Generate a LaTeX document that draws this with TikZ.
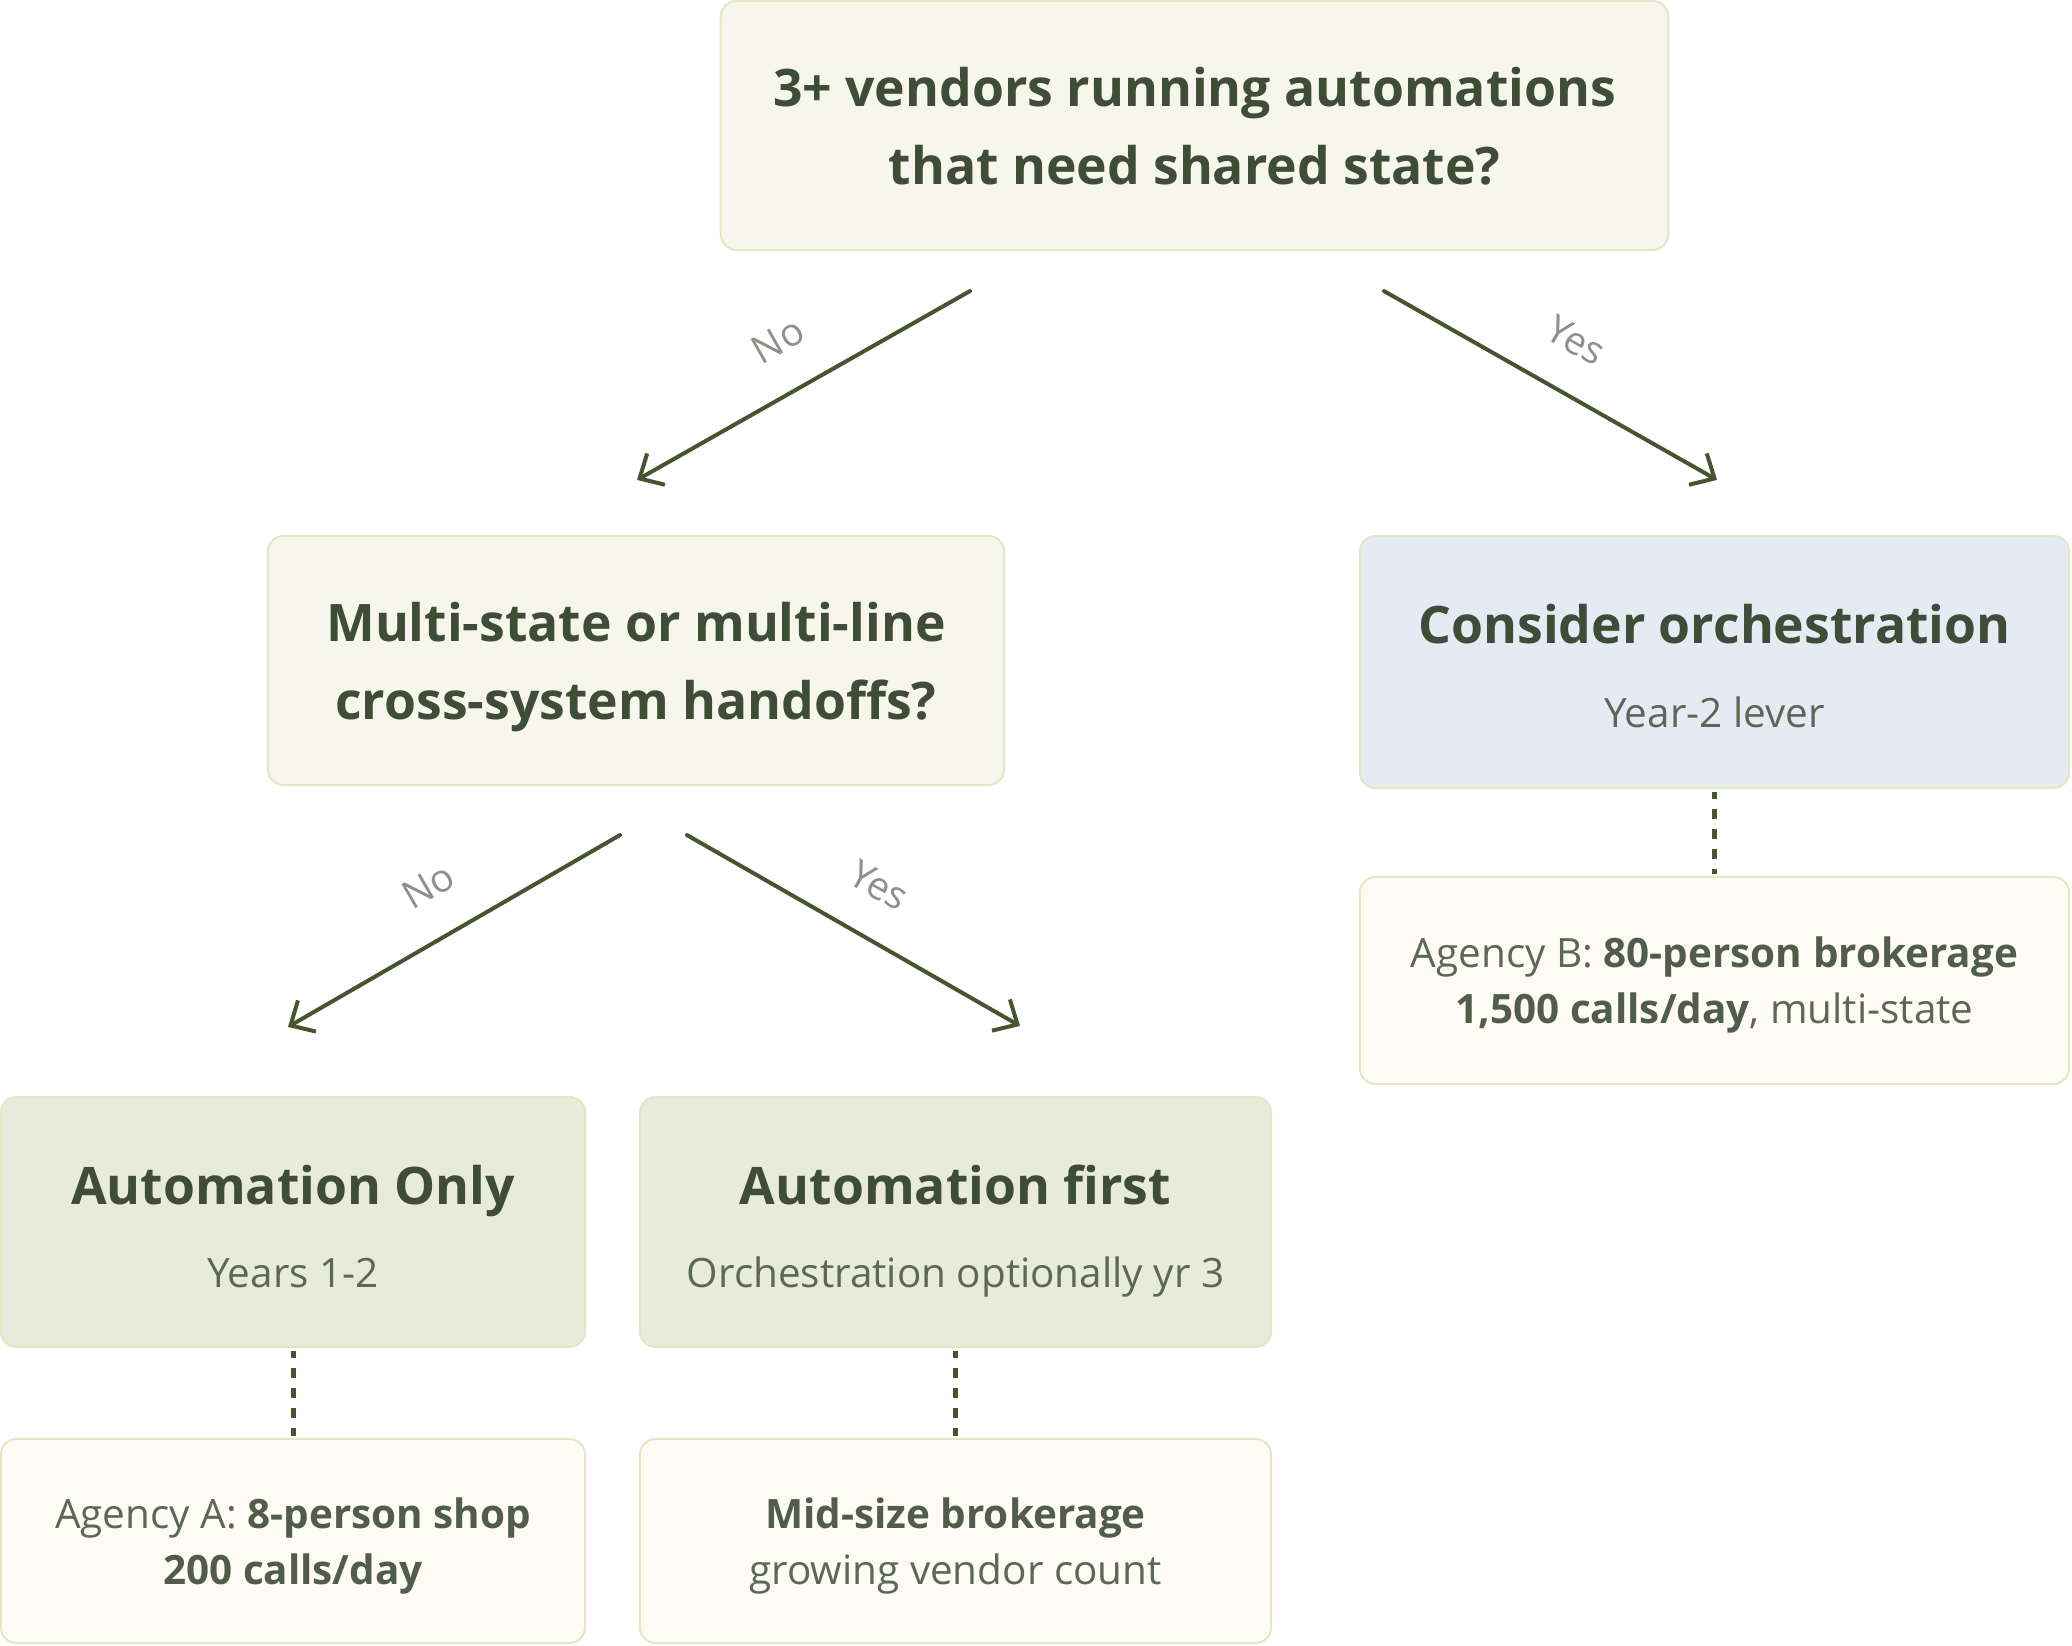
\documentclass[tikz,border=0pt]{standalone}
\usepackage{fontspec}
\setmainfont{Open Sans}
\usepackage{xcolor}
\usepackage{tikz}
\usetikzlibrary{calc}
\usetikzlibrary{arrows.meta}

\definecolor{ink}{HTML}{3F4C37}
\definecolor{soft}{HTML}{5C6757}
\definecolor{softbold}{HTML}{515D4A}
\definecolor{flowgreen}{HTML}{465530}
\definecolor{choicegray}{HTML}{8C918A}
\definecolor{askfill}{HTML}{F7F6EC}
\definecolor{orchfill}{HTML}{E4EBF3}
\definecolor{leaffill}{HTML}{E8EBDA}
\definecolor{notefill}{HTML}{FDFBF4}
\definecolor{cardedge}{HTML}{E3E7C4}

\newcommand\cardtitlefont{\fontsize{14.7}{22.2}\selectfont\bfseries}
\newcommand\cardsubfont{\fontsize{11.5}{15.9}\selectfont}
\newcommand\choicefont{\fontsize{11}{13}\selectfont}

\tikzset{
  card/.style={draw=cardedge, line width=0.02cm, rounded corners=0.16cm, inner sep=0pt, align=center},
  ask/.style={card, fill=askfill, text=ink, font=\cardtitlefont, text depth=0pt},
  orch/.style={card, fill=orchfill},
  leaf/.style={card, fill=leaffill},
  note/.style={card, fill=notefill, text=soft, font=\cardsubfont, text depth=0pt},
  headline/.style={anchor=base, text=ink, font=\cardtitlefont},
  subline/.style={anchor=base, text=soft, font=\cardsubfont},
  flow/.style={draw=flowgreen, line width=0.04cm, line cap=round, -{Straight Barb[length=0.19cm,width=0.36cm]}},
  link/.style={draw=flowgreen, line width=0.05cm, dash pattern=on 0.1cm off 0.1cm, dash phase=0.03cm, shorten <=0.03cm, shorten >=0.02cm},
  choice/.style={midway, sloped, above=0.36cm, inner sep=0pt, text=choicegray, font=\choicefont}
}
\newcommand\keyfact[1]{\textbf{\color{softbold}#1}}

\begin{document}
\begin{tikzpicture}[x=0.01cm, y=-0.01cm]
        \useasboundingbox (0,0) rectangle (2072,1646);

        \node[ask, minimum width=9.47cm, minimum height=2.49cm] (vendors) at (1194.5,125.5) {3+ vendors running automations\\that need shared state?};
        \node[ask, minimum width=7.36cm, minimum height=2.49cm] (handoffs) at (636,660.5) {Multi-state or multi-line\\cross-system handoffs?};

        \node[orch, minimum width=7.09cm, minimum height=2.52cm] (orchestrate) at (1714.5,662) {};
        \node[headline] (orchestrateT) at ($(orchestrate.center)+(0,-19)$) {Consider orchestration};
        \node[subline] (orchestrateS) at ($(orchestrate.center)+(0,65)$) {Year-2 lever};
        \node[note, minimum width=7.09cm, minimum height=2.07cm] (agencyB) at (1714.5,980.5) {Agency B: \keyfact{80-person brokerage}\\\keyfact{1,500 calls/day}, multi-state};

        \node[leaf, minimum width=5.84cm, minimum height=2.50cm] (autoonly) at (293,1222) {};
        \node[headline] (autoonlyT) at ($(autoonly.center)+(0,-18)$) {Automation Only};
        \node[subline] (autoonlyS) at ($(autoonly.center)+(0,65)$) {Years 1-2};
        \node[note, minimum width=5.84cm, minimum height=2.04cm] (agencyA) at (293,1541) {Agency A: \keyfact{8-person shop}\\\keyfact{200 calls/day}};

        \node[leaf, minimum width=6.31cm, minimum height=2.50cm] (autofirst) at (955.5,1222) {};
        \node[headline] (autofirstT) at ($(autofirst.center)+(0,-18)$) {Automation first};
        \node[subline] (autofirstS) at ($(autofirst.center)+(0,65)$) {Orchestration optionally yr 3};
        \node[note, minimum width=6.31cm, minimum height=2.04cm] (midsize) at (955.5,1541) {\keyfact{Mid-size brokerage}\\growing vendor count};

        \coordinate (vendorsNo) at ($(vendors.south)+(-224.5,40)$);
        \coordinate (vendorsYes) at ($(vendors.south)+(189.5,40)$);
        \coordinate (handoffsIn) at ($(handoffs.north)+(1,-55)$);
        \coordinate (orchestrateIn) at ($(orchestrate.north)+(2.5,-55)$);
        \coordinate (handoffsNo) at ($(handoffs.south)+(-16,49)$);
        \coordinate (handoffsYes) at ($(handoffs.south)+(51,49)$);
        \coordinate (autoonlyIn) at ($(autoonly.north)+(-5,-69)$);
        \coordinate (autofirstIn) at ($(autofirst.north)+(64.5,-70)$);

        \draw[flow] (vendorsNo)--node[choice]{No}(handoffsIn);
        \draw[flow] (vendorsYes)--node[choice]{Yes}(orchestrateIn);
        \draw[flow] (handoffsNo)--node[choice]{No}(autoonlyIn);
        \draw[flow] (handoffsYes)--node[choice]{Yes}(autofirstIn);

        \draw[link] (orchestrate.south)--(agencyB.north);
        \draw[link] (autoonly.south)--(agencyA.north);
        \draw[link] (autofirst.south)--(midsize.north);
    \end{tikzpicture}
\end{document}
